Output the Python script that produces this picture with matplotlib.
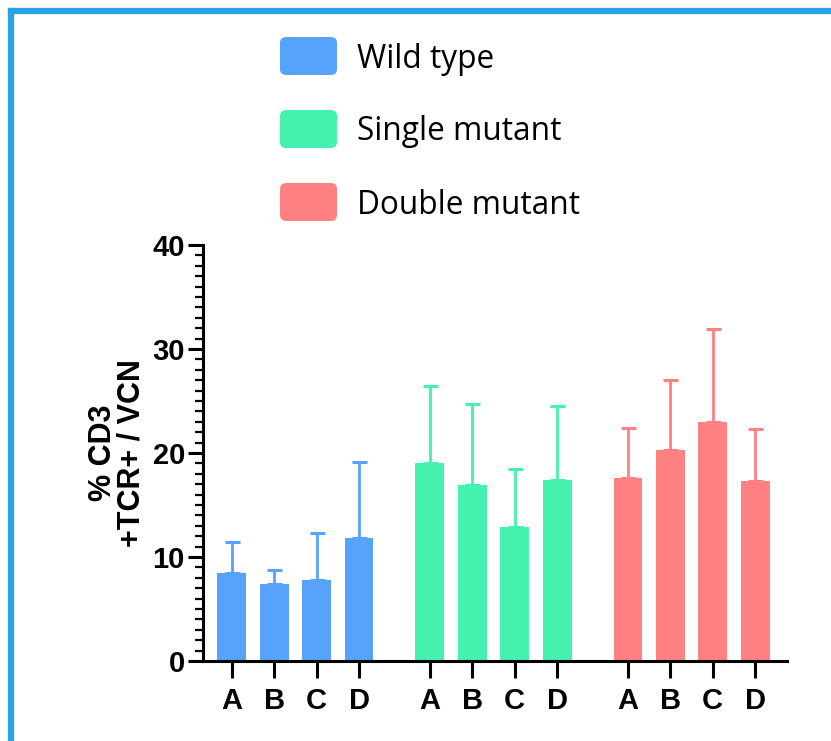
import matplotlib.pyplot as plt
import numpy as np
from matplotlib.patches import FancyBboxPatch
from matplotlib.lines import Line2D
from matplotlib.ticker import MultipleLocator

plt.rcParams['font.family'] = ['Liberation Sans', 'DejaVu Sans']

groups = ['Wild type', 'Single mutant', 'Double mutant']
samples = ['A', 'B', 'C', 'D']
colors = ['#57A2FB', '#44F1AE', '#FF8181']

# means and upper error (mean + SD)
means = [
    [8.5, 7.4, 7.8, 11.8],
    [19.0, 16.9, 12.9, 17.4],
    [17.6, 20.3, 23.0, 17.3],
]
upper = [
    [11.4, 8.7, 12.3, 19.1],
    [26.4, 24.7, 18.5, 24.5],
    [22.4, 27.0, 31.9, 22.3],
]

fig = plt.figure(figsize=(8.31, 7.41), dpi=100)
ax = fig.add_axes([0.2443, 0.108, 0.7027, 0.5614])

group_step = 4.67
for g, name in enumerate(groups):
    x = g * group_step + np.arange(len(samples))
    m = np.array(means[g])
    err = np.array(upper[g]) - m
    ax.bar(x, m, width=0.68, color=colors[g], zorder=2)
    ax.errorbar(x, m, yerr=[np.zeros_like(err), err], fmt='none',
                ecolor=colors[g], elinewidth=2, capsize=5.4, capthick=2.2,
                zorder=1)

xt = np.concatenate([g * group_step + np.arange(len(samples)) for g in range(len(groups))])
ax.set_xticks(xt)
ax.set_xticklabels(samples * len(groups), fontsize=21, fontweight='bold')
ax.set_xlim(-0.68, xt[-1] + 0.75)

ax.set_ylim(0, 40)
ax.yaxis.set_major_locator(MultipleLocator(10))
ax.yaxis.set_minor_locator(MultipleLocator(1))
for lab in ax.get_yticklabels():
    lab.set_fontsize(21)
    lab.set_fontweight('bold')

ax.spines['top'].set_visible(False)
ax.spines['right'].set_visible(False)
ax.spines['left'].set_linewidth(2.2)
ax.spines['bottom'].set_linewidth(2.2)
ax.tick_params(axis='x', length=12, width=2.2, pad=7)
ax.tick_params(axis='y', which='major', length=11, width=2.2, pad=2)
ax.tick_params(axis='y', which='minor', length=6, width=1.6)

ax.set_ylabel('% CD3\n+TCR+ / VCN', fontsize=22, fontweight='bold',
              linespacing=0.95, labelpad=4)

# legend: rounded swatches with text above the plot
W, H = 831, 741
legend_y = [56, 129, 202]
for g, name in enumerate(groups):
    yc = legend_y[g]
    box = FancyBboxPatch((280 / W, (H - yc - 19) / H), 57 / W, 38 / H,
                         boxstyle='round,pad=0,rounding_size=0.008',
                         transform=fig.transFigure, facecolor=colors[g],
                         edgecolor='none')
    fig.patches.append(box)
    fig.text(357 / W, (H - yc - 3) / H, name, fontsize=22.8, family='Open Sans',
             ha='left', va='center')

# blue frame around the figure
frame = '#29A3E8'
fig.lines.append(Line2D([11 / W, 1.0], [1 - 11 / H, 1 - 11 / H],
                        transform=fig.transFigure, color=frame, linewidth=4.5))
fig.lines.append(Line2D([11 / W, 11 / W], [0.0, 1 - 11 / H],
                        transform=fig.transFigure, color=frame, linewidth=4.5))

plt.savefig('out.png', dpi=100)
